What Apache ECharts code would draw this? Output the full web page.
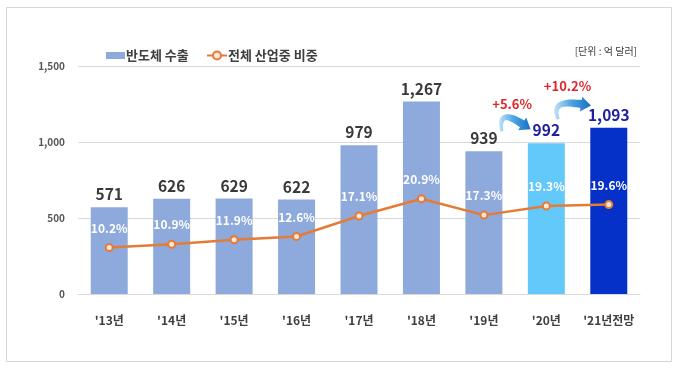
<!DOCTYPE html>
<html><head><meta charset="utf-8">
<script src="https://cdn.jsdelivr.net/npm/echarts@6/dist/echarts.min.js"></script>
<style>html,body{margin:0;padding:0;background:#fff}#c{width:680px;height:370px}</style>
</head><body><div id="c"></div>
<script>
const categories = ["'13년","'14년","'15년","'16년","'17년","'18년","'19년","'20년","'21년전망"];
const exportValues = [571, 626, 629, 622, 979, 1267, 939, 992, 1093];
const shareValues = [10.2, 10.9, 11.9, 12.6, 17.1, 20.9, 17.3, 19.3, 19.6];
const yTicks = [0, 500, 1000, 1500];
const growthLabels = ['+5.6%', '+10.2%'];
const seriesNames = ['반도체 수출', '전체 산업중 비중'];
const unitText = '[단위 : 억 달러]';

const FONT = '"Noto Sans CJK KR", "Noto Sans", sans-serif';
const barColors = exportValues.map((v, i) => i === 7 ? '#63C8FA' : (i === 8 ? '#0631C8' : '#8EA9DB'));
const labelColors = exportValues.map((v, i) => i >= 7 ? '#1E1E9E' : '#3A3A3A');

const chart = echarts.init(document.getElementById('c'));
chart.setOption({
  animation: false,
  textStyle: { fontFamily: FONT },
  grid: { left: 78, right: 40, top: 66, bottom: 76, containLabel: false },
  title: {
    text: unitText, right: 38, top: 41,
    textStyle: { fontSize: 10, fontWeight: 'normal', color: '#404040', fontFamily: FONT }
  },
  legend: [
    { data: [seriesNames[0]], left: 101, top: 44, icon: 'rect', itemWidth: 19, itemHeight: 7, itemGap: 4,
      textStyle: { fontSize: 13, fontWeight: 'bold', color: '#404040', fontFamily: FONT, padding: [0, 0, 0, -4] } },
    { data: [seriesNames[1]], left: 201, top: 44, itemWidth: 20, itemHeight: 10,
      textStyle: { fontSize: 13, fontWeight: 'bold', color: '#404040', fontFamily: FONT, padding: [0, 0, 0, -4] } }
  ],
  xAxis: {
    type: 'category', data: categories,
    axisLine: { show: true, lineStyle: { color: '#D9D9D9' } },
    axisTick: { show: false },
    axisLabel: { interval: 0, fontSize: 12, fontWeight: 'bold', color: '#404040', margin: 20, fontFamily: FONT }
  },
  yAxis: [
    { type: 'value', min: yTicks[0], max: yTicks[yTicks.length - 1], interval: yTicks[1] - yTicks[0],
      axisLine: { show: false }, axisTick: { show: false },
      splitLine: { lineStyle: { color: '#D9D9D9' } },
      axisLabel: { fontSize: 10, fontWeight: 'bold', color: '#555555', margin: 13, fontFamily: FONT,
        formatter: v => v.toLocaleString('en-US') } },
    { type: 'value', min: 0, max: 50, show: false, splitLine: { show: false } }
  ],
  series: [
    { name: seriesNames[0], type: 'bar', barWidth: 37,
      itemStyle: { color: '#8EA9DB' },
      data: exportValues.map((v, i) => ({
        value: v, itemStyle: { color: barColors[i] },
        label: { color: labelColors[i] }
      })),
      label: { show: true, position: 'top', distance: 5, fontSize: 15.5, fontWeight: 'bold', fontFamily: FONT,
        formatter: p => p.value.toLocaleString('en-US') }
    },
    { name: seriesNames[1], type: 'line', yAxisIndex: 1, data: shareValues,
      symbol: 'circle', symbolSize: 7,
      lineStyle: { color: '#E57B35', width: 2.5 },
      itemStyle: { color: '#FCE7D8', borderColor: '#E57B35', borderWidth: 2 },
      label: { show: true, position: 'top', distance: 9, fontSize: 12, fontWeight: 'bold', color: '#FFFFFF', fontFamily: FONT,
        formatter: p => p.value.toFixed(1) + '%' }
    }
  ]
});

// tapered curved annotation arrow from tail T to tip P
function arrowGraphics(T, P, bulge) {
  const dx = P[0] - T[0], dy = P[1] - T[1];
  const L = Math.hypot(dx, dy);
  const u = [dx / L, dy / L];
  const n = [u[1], -u[0]];
  const headLen = 10;
  const C = [T[0] + 0.05 * L * u[0] + bulge * n[0], T[1] + 0.05 * L * u[1] + bulge * n[1]];
  const B = [P[0] - headLen * u[0] + 2 * n[0], P[1] - headLen * u[1] + 2 * n[1]];
  const q = t => [(1 - t) * (1 - t) * T[0] + 2 * (1 - t) * t * C[0] + t * t * B[0],
                  (1 - t) * (1 - t) * T[1] + 2 * (1 - t) * t * C[1] + t * t * B[1]];
  const dq = t => [2 * (1 - t) * (C[0] - T[0]) + 2 * t * (B[0] - C[0]),
                   2 * (1 - t) * (C[1] - T[1]) + 2 * t * (B[1] - C[1])];
  const left = [], right = [];
  const N = 24;
  for (let k = 0; k <= N; k++) {
    const t = k / N, p = q(t), d = dq(t);
    const dl = Math.hypot(d[0], d[1]);
    const nn = [-d[1] / dl, d[0] / dl];
    const w = (3 + 5 * t) / 2;
    left.push([p[0] + nn[0] * w, p[1] + nn[1] * w]);
    right.push([p[0] - nn[0] * w, p[1] - nn[1] * w]);
  }
  const dEnd = dq(1), dl = Math.hypot(dEnd[0], dEnd[1]);
  const v = [dEnd[0] / dl, dEnd[1] / dl], vp = [-v[1], v[0]];
  const tip = [B[0] + headLen * v[0], B[1] + headLen * v[1]];
  const hw = 7.5;
  const pts = left.concat([[B[0] + vp[0] * hw, B[1] + vp[1] * hw], tip, [B[0] - vp[0] * hw, B[1] - vp[1] * hw]], right.reverse());
  const grad = { type: 'linear', x: 0, y: 0.5, x2: 1, y2: 0.5,
    colorStops: [{ offset: 0, color: '#BFE2F8' }, { offset: 0.45, color: '#4FA6E4' }, { offset: 1, color: '#1670C4' }] };
  return [{ type: 'polygon', shape: { points: pts }, style: { fill: grad }, z: 100 }];
}
const px = (i, v) => chart.convertToPixel({ seriesIndex: 0 }, [i, v]);
const c19 = px(6, exportValues[6]), c20 = px(7, exportValues[7]), c21 = px(8, exportValues[8]);
const g = [];
g.push(...arrowGraphics([c19[0] + 18, c19[1] - 20], [c20[0] - 14, c20[1] - 20], 24));
g.push(...arrowGraphics([c20[0] + 12, c20[1] - 24], [c21[0] - 18, c21[1] - 27], 22));
g.push({ type: 'text', x: (c19[0] + c20[0]) / 2 - 3, y: c20[1] - 39, z: 101,
  style: { text: growthLabels[0], fill: '#E0262A', font: 'bold 13px ' + FONT, align: 'center', verticalAlign: 'middle' } });
g.push({ type: 'text', x: (c20[0] + c21[0]) / 2 - 10, y: c21[1] - 42, z: 101,
  style: { text: growthLabels[1], fill: '#E0262A', font: 'bold 13px ' + FONT, align: 'center', verticalAlign: 'middle' } });
g.push({ type: 'rect', shape: { x: 6.5, y: 7.5, width: 665, height: 354 }, style: { fill: null, stroke: '#D6D6D6', lineWidth: 1 }, z: 0 });
chart.setOption({ graphic: g });
</script>
</body></html>
